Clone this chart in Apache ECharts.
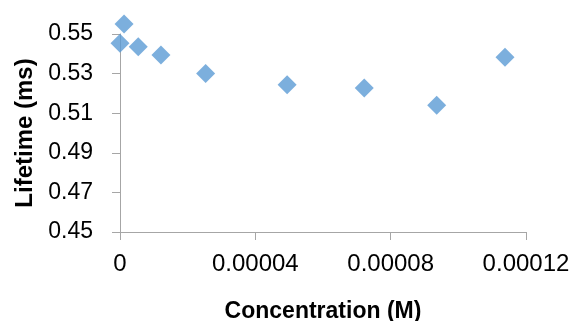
<!DOCTYPE html>
<html>
<head>
<meta charset="utf-8">
<script src="https://cdn.jsdelivr.net/npm/echarts@6/dist/echarts.min.js"></script>
<style>
html,body{margin:0;padding:0;background:#fff;}
#chart{width:572px;height:321px;}
</style>
</head>
<body>
<div id="chart"></div>
<script>
// Data
var concentration = [0, 0.0000012, 0.0000054, 0.0000121, 0.0000253, 0.0000494, 0.0000722, 0.0000936, 0.0001138];
var lifetime      = [0.5453, 0.555, 0.5436, 0.5394, 0.530, 0.5244, 0.5227, 0.514, 0.5382];
var xTickLabels = ['0', '0.00004', '0.00008', '0.00012'];
var yTickLabels = ['0.45', '0.47', '0.49', '0.51', '0.53', '0.55'];

var points = concentration.map(function (c, i) { return [c, lifetime[i]]; });

var chart = echarts.init(document.getElementById('chart'), null, {renderer: 'canvas'});
var fontFam = '"Liberation Sans", Arial, sans-serif';
chart.setOption({
  animation: false,
  backgroundColor: '#ffffff',
  grid: {left: 120, right: 46, top: 34, bottom: 89, containLabel: false, outerBoundsMode: 'none'},
  xAxis: {
    type: 'value',
    min: 0, max: 0.00012, interval: 0.00004,
    name: 'Concentration (M)',
    nameLocation: 'middle',
    nameGap: 68,
    nameTextStyle: {fontFamily: fontFam, fontWeight: 'bold', fontSize: 23, color: '#000'},
    axisLine: {show: true, lineStyle: {color: '#A6A6A6', width: 1}},
    axisTick: {show: true, length: 8, lineStyle: {color: '#A6A6A6'}},
    splitLine: {show: false},
    axisLabel: {
      margin: 20, fontFamily: fontFam, fontSize: 24, color: '#000',
      formatter: function (v, i) { return xTickLabels[i]; }
    }
  },
  yAxis: {
    type: 'value',
    min: 0.45, max: 0.55, interval: 0.02,
    name: 'Lifetime (ms)',
    nameLocation: 'middle',
    nameGap: 83,
    nameRotate: 90,
    nameTextStyle: {fontFamily: fontFam, fontWeight: 'bold', fontSize: 24, color: '#000'},
    axisLine: {show: true, lineStyle: {color: '#A6A6A6', width: 1}},
    axisTick: {show: true, length: 8, lineStyle: {color: '#A6A6A6'}},
    splitLine: {show: false},
    axisLabel: {
      margin: 27, fontFamily: fontFam, fontSize: 23, color: '#000',
      formatter: function (v, i) { return yTickLabels[i]; }
    }
  },
  series: [{
    type: 'scatter',
    data: points,
    clip: false,
    symbol: 'diamond',
    symbolSize: 19,
    itemStyle: {color: '#5B9BD5'}
  }]
});
</script>
</body>
</html>
